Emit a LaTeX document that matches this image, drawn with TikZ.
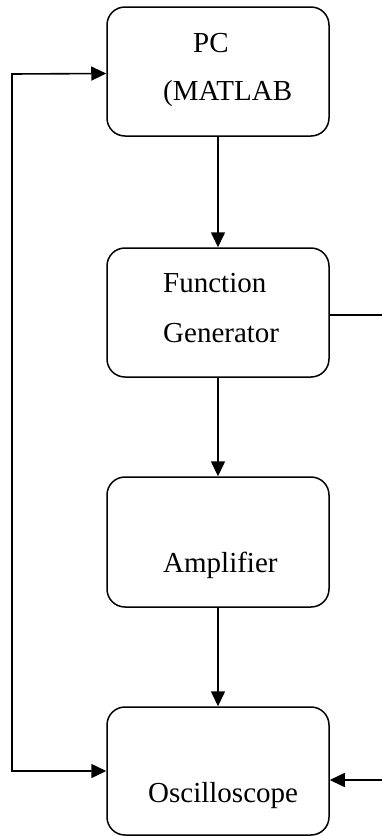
\documentclass[tikz,border=0pt]{standalone}
\usepackage{fontspec}
\setmainfont{Liberation Serif}
\usetikzlibrary{arrows.meta,calc}
\begin{document}
\begin{tikzpicture}[x=1pt,y=-1pt,
  box/.style={draw,line width=1.5pt,rounded corners=18pt,minimum width=222pt,inner sep=0pt},
  lbl/.style={anchor=base west,inner sep=0pt,font=\fontsize{29}{34}\selectfont},
  conn/.style={line width=1.6pt},
  tip/.style={-{Triangle[length=15pt,width=14pt]}}]
\useasboundingbox (0,0) rectangle (382,836);
\node[box,minimum height=129pt] (pc) at (218,71.5) {};
\node[box,minimum height=129pt] (fg) at (218,312.5) {};
\node[box,minimum height=130pt] (amp) at (218,542) {};
\node[box,minimum height=128pt] (osc) at (218,771) {};
\node[lbl] (t1) at (193,52) {PC};
\node[lbl] (t2) at (163,100) {(MATLAB};
\node[lbl] (t3) at (163,292) {Function};
\node[lbl] (t4) at (163,342) {Generator};
\node[lbl] (t5) at (163,572) {Amplifier};
\node[lbl] (t6) at (148,802) {Oscilloscope};
\coordinate (fgout) at (382,315);
\coordinate (oscin) at (382,780);
\coordinate (lc) at (12,74);
\draw[conn,tip] (pc.south) -- (fg.north);
\draw[conn,tip] (fg.south) -- (amp.north);
\draw[conn,tip] (amp.south) -- (osc.north);
\draw[conn,{Triangle[length=15pt,width=14pt]}-{Triangle[length=15pt,width=14pt]}] ($(pc.west)+(0,2)$) -- (lc) |- (osc.west);
\draw[conn] (fg.east |- fgout) -- (fgout);
\draw[conn,tip] (oscin) -- (osc.east |- oscin);
\end{tikzpicture}
\end{document}
